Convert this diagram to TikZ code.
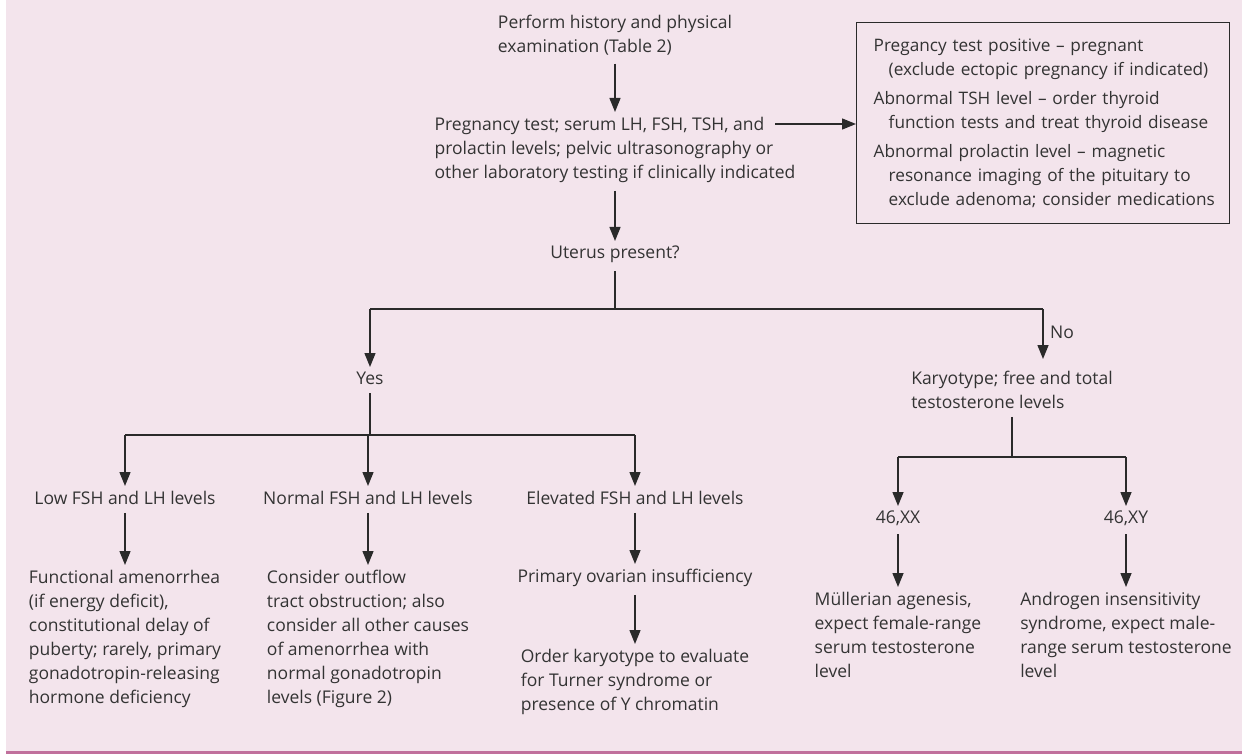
\documentclass[tikz,border=0pt]{standalone}
\usepackage{fontspec}
\setmainfont{Open Sans}
\usetikzlibrary{arrows.meta}
\definecolor{bgpink}{HTML}{F3E4EC}
\definecolor{barpink}{HTML}{C0709C}
\definecolor{ink}{HTML}{333333}
\definecolor{lineink}{HTML}{2A2A2A}
\hbadness=10000 \hfuzz=100pt
\begin{document}
\begin{tikzpicture}[x=1pt,y=-1pt,
  txt/.style={inner sep=0pt, align=left, anchor=north, text=ink, font=\fontsize{17.5}{24}\selectfont},
  ln/.style={draw=lineink, line width=1.4pt},
  arr/.style={ln, -{Triangle[length=14pt,width=11pt]}, shorten <=8pt, shorten >=5pt},
  boxst/.style={draw=lineink, line width=1.4pt, inner xsep=17pt, inner ysep=0pt, text width=339pt, minimum height=201pt, align=left, anchor=north west, text=ink, font=\fontsize{17.2}{24}\selectfont}]
\useasboundingbox (0,0) rectangle (1242,754);
\fill[white] (0,0) rectangle (1242,754);
\fill[bgpink] (6,0) rectangle (1242,751);
\fill[barpink] (6,751) rectangle (1242,754);

% nodes
\node[txt] (perform) at (615,15) {Perform history and physical\\examination (Table 2)};
\node[txt] (preg) at (615,117) {Pregnancy test; serum LH, FSH, TSH, and\\prolactin levels; pelvic ultrasonography or\\other laboratory testing if clinically indicated};
\node[boxst] (box) at (856,22) {\mbox{Pregancy test positive -- pregnant}\\\mbox{\hspace*{15pt}(exclude ectopic pregnancy if indicated)}\\[5pt]\mbox{Abnormal TSH level -- order thyroid}\\\mbox{\hspace*{15pt}function tests and treat thyroid disease}\\[5pt]\mbox{Abnormal prolactin level -- magnetic}\\\mbox{\hspace*{15pt}resonance imaging of the pituitary to}\\\mbox{\hspace*{15pt}exclude adenoma; consider medications}};
\node[txt] (uterus) at (615,246) {Uterus present?};
\node[txt] (yes) at (370,372) {Yes};
\node[txt, anchor=north west] (no) at (1050,326) {No};
\node[txt] (karyo) at (1012,371) {Karyotype; free and total\\testosterone levels};
\node[txt] (low) at (125,491) {Low FSH and LH levels};
\node[txt] (normal) at (368,491) {Normal FSH and LH levels};
\node[txt] (elev) at (635,491) {Elevated FSH and LH levels};
\node[txt] (func) at (125,570) {Functional amenorrhea\\(if energy deficit),\\constitutional delay of\\puberty; rarely, primary\\gonadotropin-releasing\\hormone deficiency};
\node[txt] (consider) at (368,570) {Consider outflow\\tract obstruction; also\\consider all other causes\\of amenorrhea with\\normal gonadotropin\\levels (Figure 2)};
\node[txt] (primary) at (635,569) {Primary ovarian insufficiency};
\node[txt] (order) at (635,649) {Order karyotype to evaluate\\for Turner syndrome or\\presence of Y chromatin};
\node[txt] (xx) at (898,511) {46,XX};
\node[txt] (xy) at (1126,511) {46,XY};
\node[txt] (mull) at (898,592) {Müllerian agenesis,\\expect female-range\\serum testosterone\\level};
\node[txt] (andro) at (1126,592) {Androgen insensitivity\\syndrome, expect male-\\range serum testosterone\\level};

% junction coordinates
\coordinate (j1) at (615,309);
\coordinate (j1l) at (370,309);
\coordinate (j1r) at (1043,309);
\coordinate (j2) at (370,435);
\coordinate (j2l) at (125,435);
\coordinate (j2m) at (368,435);
\coordinate (j2r) at (635,435);
\coordinate (j3) at (1012,457);
\coordinate (j3l) at (898,457);
\coordinate (j3r) at (1126,457);
\coordinate (pregout) at (775,124);

% connectors
\draw[arr] (perform) -- (preg);
\draw[arr, shorten >=0pt, shorten <=0pt] (pregout) -- (pregout -| box.west);
\draw[arr] (preg) -- (uterus);
\draw[ln, shorten <=8pt] (uterus) -- (j1);
\draw[ln] (j1l) -- (j1r);
\draw[arr, shorten <=0pt] (j1l) -- (yes);
\draw[arr, shorten <=0pt, shorten >=12pt] (j1r) -- (j1r |- karyo.north);
\draw[ln, shorten <=8pt] (yes) -- (j2);
\draw[ln] (j2l) -- (j2r);
\draw[arr, shorten <=0pt] (j2l) -- (low);
\draw[arr, shorten <=0pt] (j2m) -- (normal);
\draw[arr, shorten <=0pt] (j2r) -- (elev);
\draw[arr] (low) -- (func);
\draw[arr] (normal) -- (consider);
\draw[arr] (elev) -- (primary);
\draw[arr] (primary) -- (order);
\draw[ln, shorten <=8pt] (karyo) -- (j3);
\draw[ln] (j3l) -- (j3r);
\draw[arr, shorten <=0pt] (j3l) -- (xx);
\draw[arr, shorten <=0pt] (j3r) -- (xy);
\draw[arr] (xx) -- (mull);
\draw[arr] (xy) -- (andro);
\end{tikzpicture}
\end{document}
